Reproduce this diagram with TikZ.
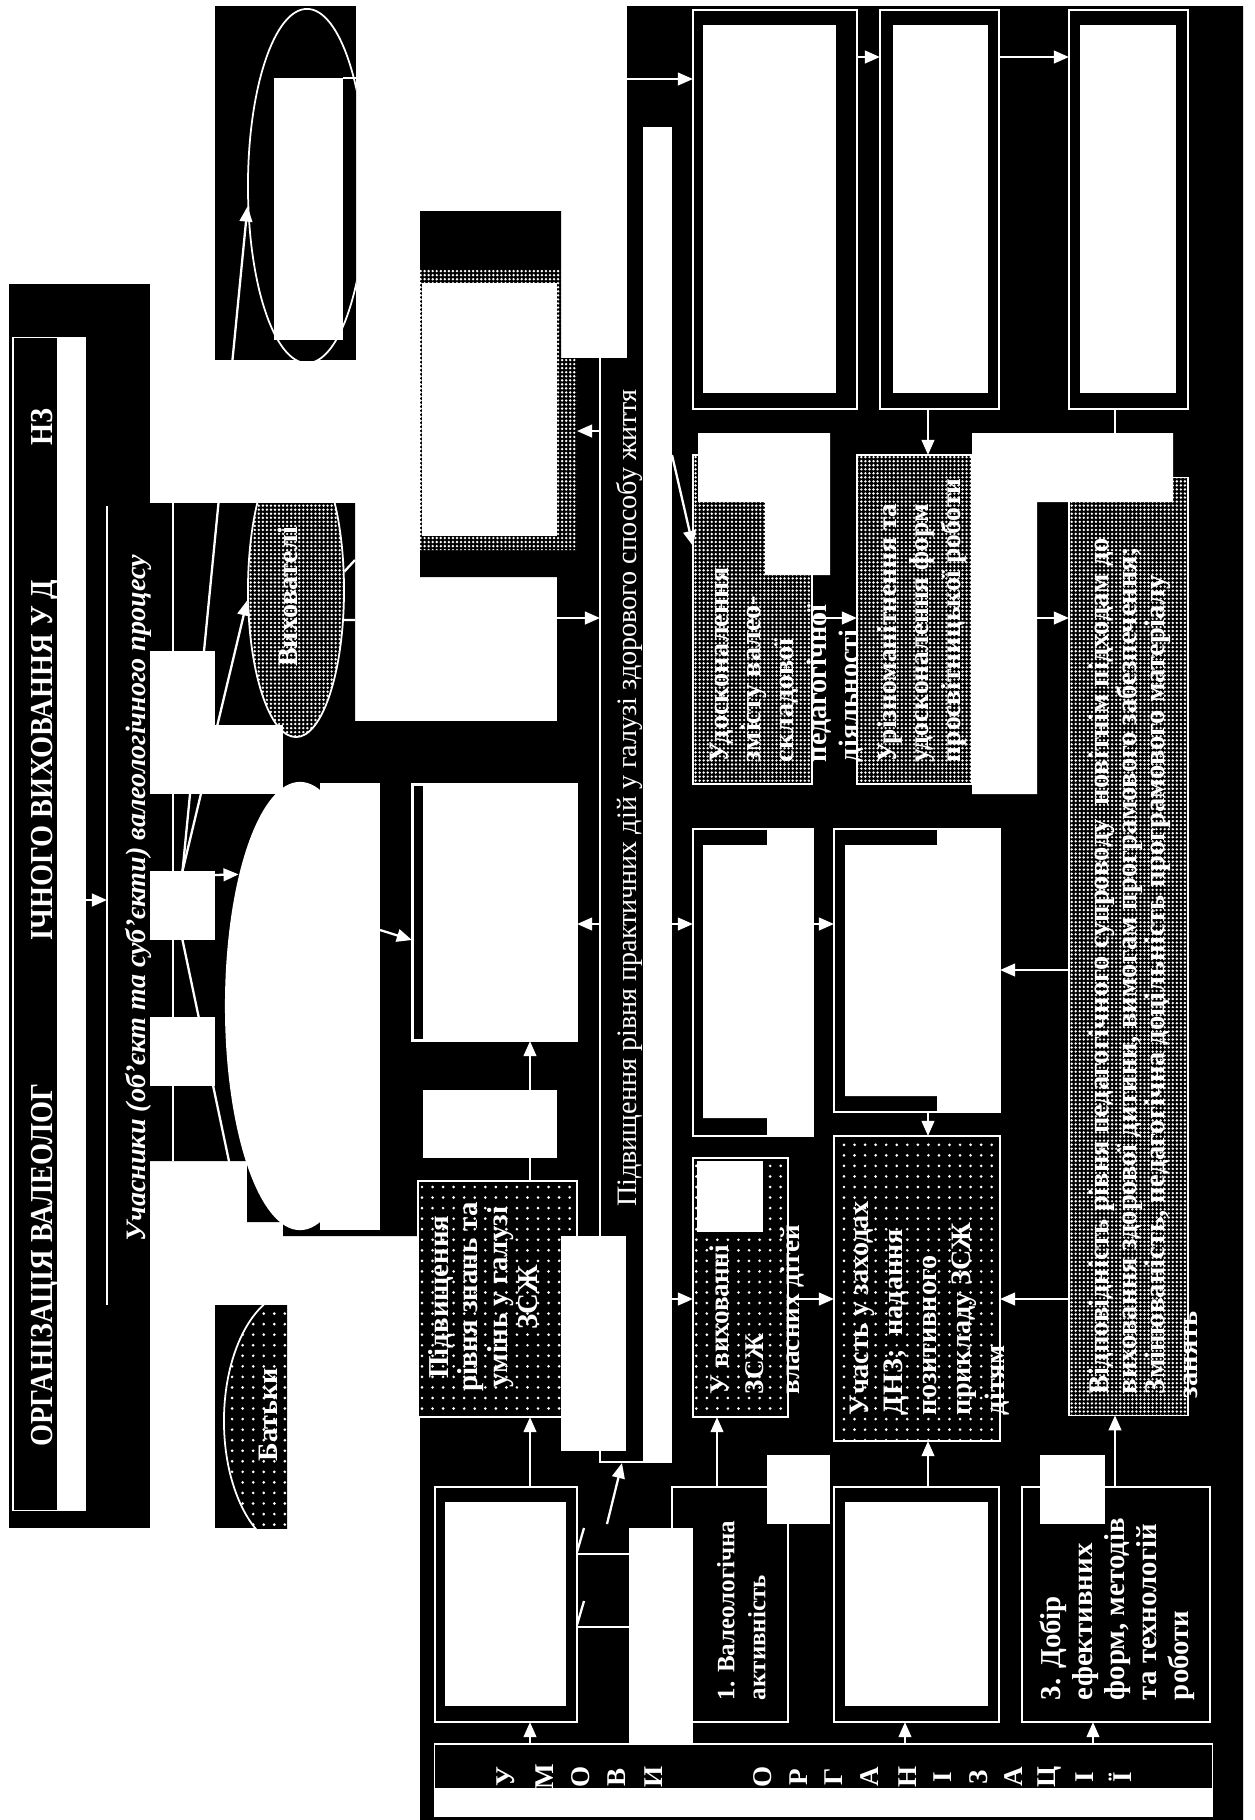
\documentclass[tikz,border=0pt]{standalone}
\usepackage{fontspec}
\setmainfont{Liberation Serif}
\usepackage{graphicx}
\usetikzlibrary{arrows.meta,patterns,shapes.geometric}
\pgfdeclarepatternformonly{densedots}{\pgfqpoint{-0.45pt}{-0.45pt}}{\pgfqpoint{0.45pt}{0.45pt}}{\pgfqpoint{1.15pt}{1.15pt}}{\pgfpathcircle{\pgfpointorigin}{0.38pt}\pgfusepath{fill}}
\pgfdeclarepatternformonly{sparsedots}{\pgfqpoint{-0.5pt}{-0.5pt}}{\pgfqpoint{0.5pt}{0.5pt}}{\pgfqpoint{3pt}{3pt}}{\pgfpathcircle{\pgfpointorigin}{0.42pt}\pgfusepath{fill}}
\newcommand\bnode[6]{\node[#6,inner sep=0pt,outer sep=0pt,minimum width={(#4-#2)*0.284528pt},minimum height={(#5-#3)*0.284528pt}] (#1) at ({(#2+#4)/2},{(#3+#5)/2}) {};}
\newcommand\myfs[2]{\fontsize{#1pt}{#2pt}\selectfont}
\begin{document}
\begin{tikzpicture}[x=0.01cm,y=-0.01cm,
  wb/.style={draw=white,line width=0.4pt},
  conn/.style={draw=white,line width=0.65pt},
  arr/.style={conn,-{Triangle[length=4.3pt,width=3.6pt]}},
  rt/.style={rotate=90,text=white,inner sep=0pt,outer sep=0pt},
  blk/.style={fill=black,draw=white,line width=0.4pt},
  wht/.style={fill=white},
  spat/.style={fill=black,draw=white,line width=0.4pt,postaction={pattern=sparsedots,pattern color=white}},
  dpat/.style={fill=black,draw=white,line width=0.4pt,postaction={pattern=densedots,pattern color=white}},
  bt/.style={font=\myfs{8}{9}\bfseries}]
\useasboundingbox (0,0) rectangle (1255,1820);
\fill[white] (0,0) rectangle (1255,1820);
% black regions
\fill[black] (9,284) rectangle (150,1528);
\fill[black] (215,6) rectangle (356,360);
\fill[black] (215,1305) rectangle (287,1528);
\fill[black] (150,503) -- (355,503) -- (355,721) -- (557,721) -- (557,577) -- (420,577) -- (420,211) -- (561,211) -- (561,358) -- (627,358) -- (627,6) -- (1243,6) -- (1243,1820) -- (420,1820) -- (420,1236) -- (283,1236) -- (283,1222) -- (247,1222) -- (247,1161) -- (150,1161) -- cycle;
% title box
\bnode{T}{13}{338}{85}{1510}{blk}
\fill[white] (57,338) rectangle (85,1510);
\coordinate (partL) at (107,506);
\draw[wb] (partL) -- (107,1305);
\draw[wb] (173,503) -- (173,1161);
\draw[arr] (T.east |- 0,900) -- (partL |- 0,900);
% top ellipse
\begin{scope}
\clip (215,6) rectangle (356,360);
\node[ellipse,draw=white,line width=0.5pt,fill=black,inner sep=0pt,minimum width={118*0.284528pt},minimum height={354*0.284528pt}] (topell) at (307,186) {};
\fill[white] (274,78) rectangle (343,340);
\draw[wb] (343,78) -- (356,78);
\end{scope}
% Vykhovateli
\begin{scope}
\clip (200,503) rectangle (360,800);
\node[ellipse,dpat,line width=0.5pt,inner sep=0pt,minimum width={96*0.284528pt},minimum height={294*0.284528pt}] (vikh) at (296,590) {};
\end{scope}
\node[rt,anchor=base,bt] (vikht) at (297,597) {Вихователі};
\draw[conn] (vikh.21) -- (355,560);
\draw[conn] (vikh.-32) -- (355,620);
% Batky
\begin{scope}
\clip (215,1305) rectangle (287,1528);
\node[ellipse,spat,line width=0.5pt,inner sep=0pt,minimum width={144*0.284528pt},minimum height={260*0.284528pt}] (batky) at (296,1421) {};
\end{scope}
\node[rt,anchor=base,bt] (batkyt) at (277,1415) {Батьки};
% big white shape
\node[ellipse,fill=white,inner sep=0pt,minimum width={150*0.284528pt},minimum height={448*0.284528pt}] (bigell) at (300,1006) {};
\bnode{bigrect}{320}{783}{380}{1230}{wht}
% hub and its lines
\bnode{hub}{150}{871}{215}{940}{wht}
\draw[arr] (hub.north) -- (topell.199);
\draw[arr] (hub.north) -- (vikh.192);
\draw[conn] (hub.south) -- (255,1285);
\fill[white] (150,871) rectangle (215,940);
\draw[arr] (hub.east |- 0,875) -- (bigell.115);
\fill[white] (150,651) rectangle (215,794);
\fill[white] (215,725) rectangle (283,794);
\fill[white] (150,1017) rectangle (215,1086);
% title texts
\node[rt,anchor=base,font=\myfs{9.1}{10}\bfseries] (ttl1) at (53,1265) {\scalebox{0.885}[1]{ОРГАНІЗАЦІЯ ВАЛЕОЛОГ}};
\node[rt,anchor=base,font=\myfs{9.1}{10}\bfseries] (ttl2) at (53,760) {\scalebox{0.885}[1]{ІЧНОГО ВИХОВАННЯ У Д}};
\node[rt,anchor=base,font=\myfs{9.1}{10}\bfseries] (ttl3) at (53,427) {\scalebox{0.885}[1]{НЗ}};
\node[rt,anchor=base,font=\myfs{8}{9}\bfseries\itshape] (part) at (145,898) {Учасники (об’єкт та суб’єкти) валеологічного процесу};
% right boxes
\bnode{F}{693}{10}{857}{409}{blk}
\fill[white] (703,25) rectangle (836,393);
\bnode{J}{880}{10}{999}{409}{blk}
\fill[white] (893,25) rectangle (988,393);
\bnode{K}{1069}{10}{1188}{409}{blk}
\fill[white] (1080,25) rectangle (1176,393);
\bnode{E}{693}{829}{813}{1136}{blk}
\fill[white] (703,845) rectangle (813,1118) (767,829) rectangle (813,1136);
\bnode{M}{834}{829}{1000}{1112}{blk}
\fill[white] (845,845) rectangle (1000,1096) (937,829) rectangle (1000,1112);
\bnode{C}{412}{784}{577}{1041}{fill=white,draw=white}
\fill[black] (414,786) rectangle (423,1039);
\bnode{G}{435}{1487}{577}{1722}{blk}
\fill[white] (445,1502) rectangle (566,1706);
\bnode{N}{834}{1487}{999}{1722}{blk}
\fill[white] (845,1502) rectangle (988,1706);
\bnode{B1}{672}{1487}{788}{1722}{blk}
\bnode{B3}{1022}{1487}{1210}{1722}{blk}
\bnode{bar}{435}{1744}{1212}{1816}{blk}
% pattern boxes
\bnode{P1}{418}{1181}{577}{1417}{spat}
\bnode{P2}{693}{1158}{788}{1417}{spat}
\bnode{P3}{834}{1136}{1000}{1441}{spat}
\bnode{P4}{693}{455}{812}{784}{dpat}
\bnode{P5}{857}{455}{972}{784}{dpat}
\bnode{P6}{1069}{478}{1188}{1415}{dpat}
\fill[pattern=densedots,pattern color=white] (420,269) rectangle (561,550) (557,358) rectangle (577,550);
\bnode{PF}{422}{283}{557}{536}{wht}
% band
\coordinate (bandL) at (600,358);
\draw[wb] (bandL) -- (600,1462) -- (643,1462);
\bnode{strip}{643}{127}{672}{1463}{wht}
\node[rt,anchor=base,font=\myfs{8}{9}] (bandtxt) at (636,798) {Підвищення рівня практичних дій у галузі здорового способу життя};
% lines under cut-outs
\draw[arr] (P1.north -| 530,0) -- (C.south -| 530,0);
\fill[white] (423,1090) rectangle (557,1158);
\draw[conn] (G.east |- 0,1554) -- (629,1554);
\draw[conn] (G.east |- 0,1627) -- (629,1627);
\draw[conn] (577,1552) -- (584,1528);
\draw[conn] (577,1625) -- (584,1601);
% texts in boxes
\node[rt,align=center,font=\myfs{8.2}{8.5}\bfseries] (p1t) at (483,1297) {Підвищення\\рівня знань та\\умінь у галузі\\ЗСЖ};
\node[rt,anchor=north west,align=left,font=\myfs{7.7}{10}\bfseries] (p2t) at (710,1394) {У вихованні\\ЗСЖ\\власних дітей};
\node[rt,anchor=north west,align=left,font=\myfs{8}{9.7}\bfseries] (p3t) at (850,1415) {Участь у заходах\\ДНЗ;\ \ надання\\позитивного\\прикладу ЗСЖ\\дітям};
\node[rt,anchor=north west,align=left,font=\myfs{8}{9.25}\bfseries] (p4t) at (710,762) {Удосконалення\\змісту валео-\\складової\\педагогічної\\діяльності};
\node[rt,anchor=north west,align=left,font=\myfs{7.8}{9.1}\bfseries] (p5t) at (877,762) {Урізноманітнення та\\удосконалення форм\\просвітницької роботи};
\node[rt,anchor=north west,align=left,font=\myfs{8.1}{7.9}\bfseries] (p6t) at (1089,1394) {Відповідність рівня педагогічного супроводу\ \ новітнім підходам до\\виховання здорової дитини, вимогам програмового забезпечення;\\Змінюваність, педагогічна доцільність програмового матеріалу};
\node[rt,anchor=base west,font=\myfs{8.1}{7.9}\bfseries] (p6t2) at (1197,1398) {занять};
\node[rt,anchor=north west,align=left,font=\myfs{7.1}{8.8}\bfseries] (b1t) at (717,1700) {1. Валеологічна\\активність};
\node[rt,anchor=north west,align=left,font=\myfs{8.2}{9.1}\bfseries] (b3t) at (1040,1700) {3. Добір\\ефективних\\форм, методів\\та технологій\\роботи};
% bar letters
\foreach \lx/\lt [count=\li] in {514/У,553/М,589/О,625/В,662/И,771/О,807/Р,842/Г,878/А,916/Н,951/І,987/З,1022/А,1055/Ц,1093/І,1131/Ї}
  \node[rt,anchor=base,font=\myfs{7.7}{8}\bfseries] (bar\li) at (\lx,1777) {\lt};
\fill[white] (435,1788) rectangle (1212,1816);
\draw[wb] (bar.south west) rectangle (bar.north east);
% white cut-outs
\fill[white] (561,1236) rectangle (626,1451);
\fill[white] (629,1528) rectangle (693,1745);
\fill[white] (767,1455) rectangle (830,1524);
\fill[white] (1040,1455) rectangle (1105,1524);
\fill[white] (972,433) rectangle (1173,502) (972,502) rectangle (1037,794);
\fill[white] (698,433) rectangle (830,502) (765,502) rectangle (830,575);
\fill[white] (697,1161) rectangle (763,1232);
% connectors
\draw[arr] (607,1524) -- (622,1463);
\draw[arr] (627,79) -- (F.west |- 0,79);
\draw[arr] (F.east |- 0,57) -- (J.west |- 0,57);
\draw[arr] (J.east |- 0,57) -- (K.west |- 0,57);
\draw[arr] (J.south -| 928,0) -- (P5.north -| 928,0);
\draw[conn] (K.south -| 1115,0) -- (1115,433);
\draw[arr] (strip.east |- 0,455) -- (P4.west |- 0,546);
\draw[arr] (P4.east |- 0,618) -- (P5.west |- 0,618);
\draw[arr] (1037,618) -- (P6.west |- 0,618);
\draw[arr] (557,618) -- (bandL |- 0,618);
\draw[arr] (bandL |- 0,431) -- (577,431);
\draw[arr] (bandL |- 0,924) -- (C.east |- 0,924);
\draw[arr] (strip.east |- 0,924) -- (E.west |- 0,924);
\draw[arr] (E.east |- 0,924) -- (M.west |- 0,924);
\draw[arr] (P6.west |- 0,970) -- (M.east |- 0,970);
\draw[arr] (M.south -| 928,0) -- (P3.north -| 928,0);
\draw[arr] (strip.east |- 0,1299) -- (P2.west |- 0,1299);
\draw[arr] (P2.east |- 0,1299) -- (P3.west |- 0,1299);
\draw[arr] (P6.west |- 0,1299) -- (P3.east |- 0,1299);
\draw[arr] (G.north -| 530,0) -- (P1.south -| 530,0);
\draw[arr] (B1.north -| 717,0) -- (P2.south -| 717,0);
\draw[arr] (N.north -| 928,0) -- (P3.south -| 928,0);
\draw[arr] (B3.north -| 1115,0) -- (P6.south -| 1115,0);
\draw[arr] (bar.north -| 530,0) -- (G.south -| 530,0);
\draw[arr] (bar.north -| 905,0) -- (N.south -| 905,0);
\draw[arr] (bar.north -| 1093,0) -- (B3.south -| 1093,0);
\draw[arr] (bigrect.east |- 0,930) -- (C.west |- 0,940);
\end{tikzpicture}
\end{document}
